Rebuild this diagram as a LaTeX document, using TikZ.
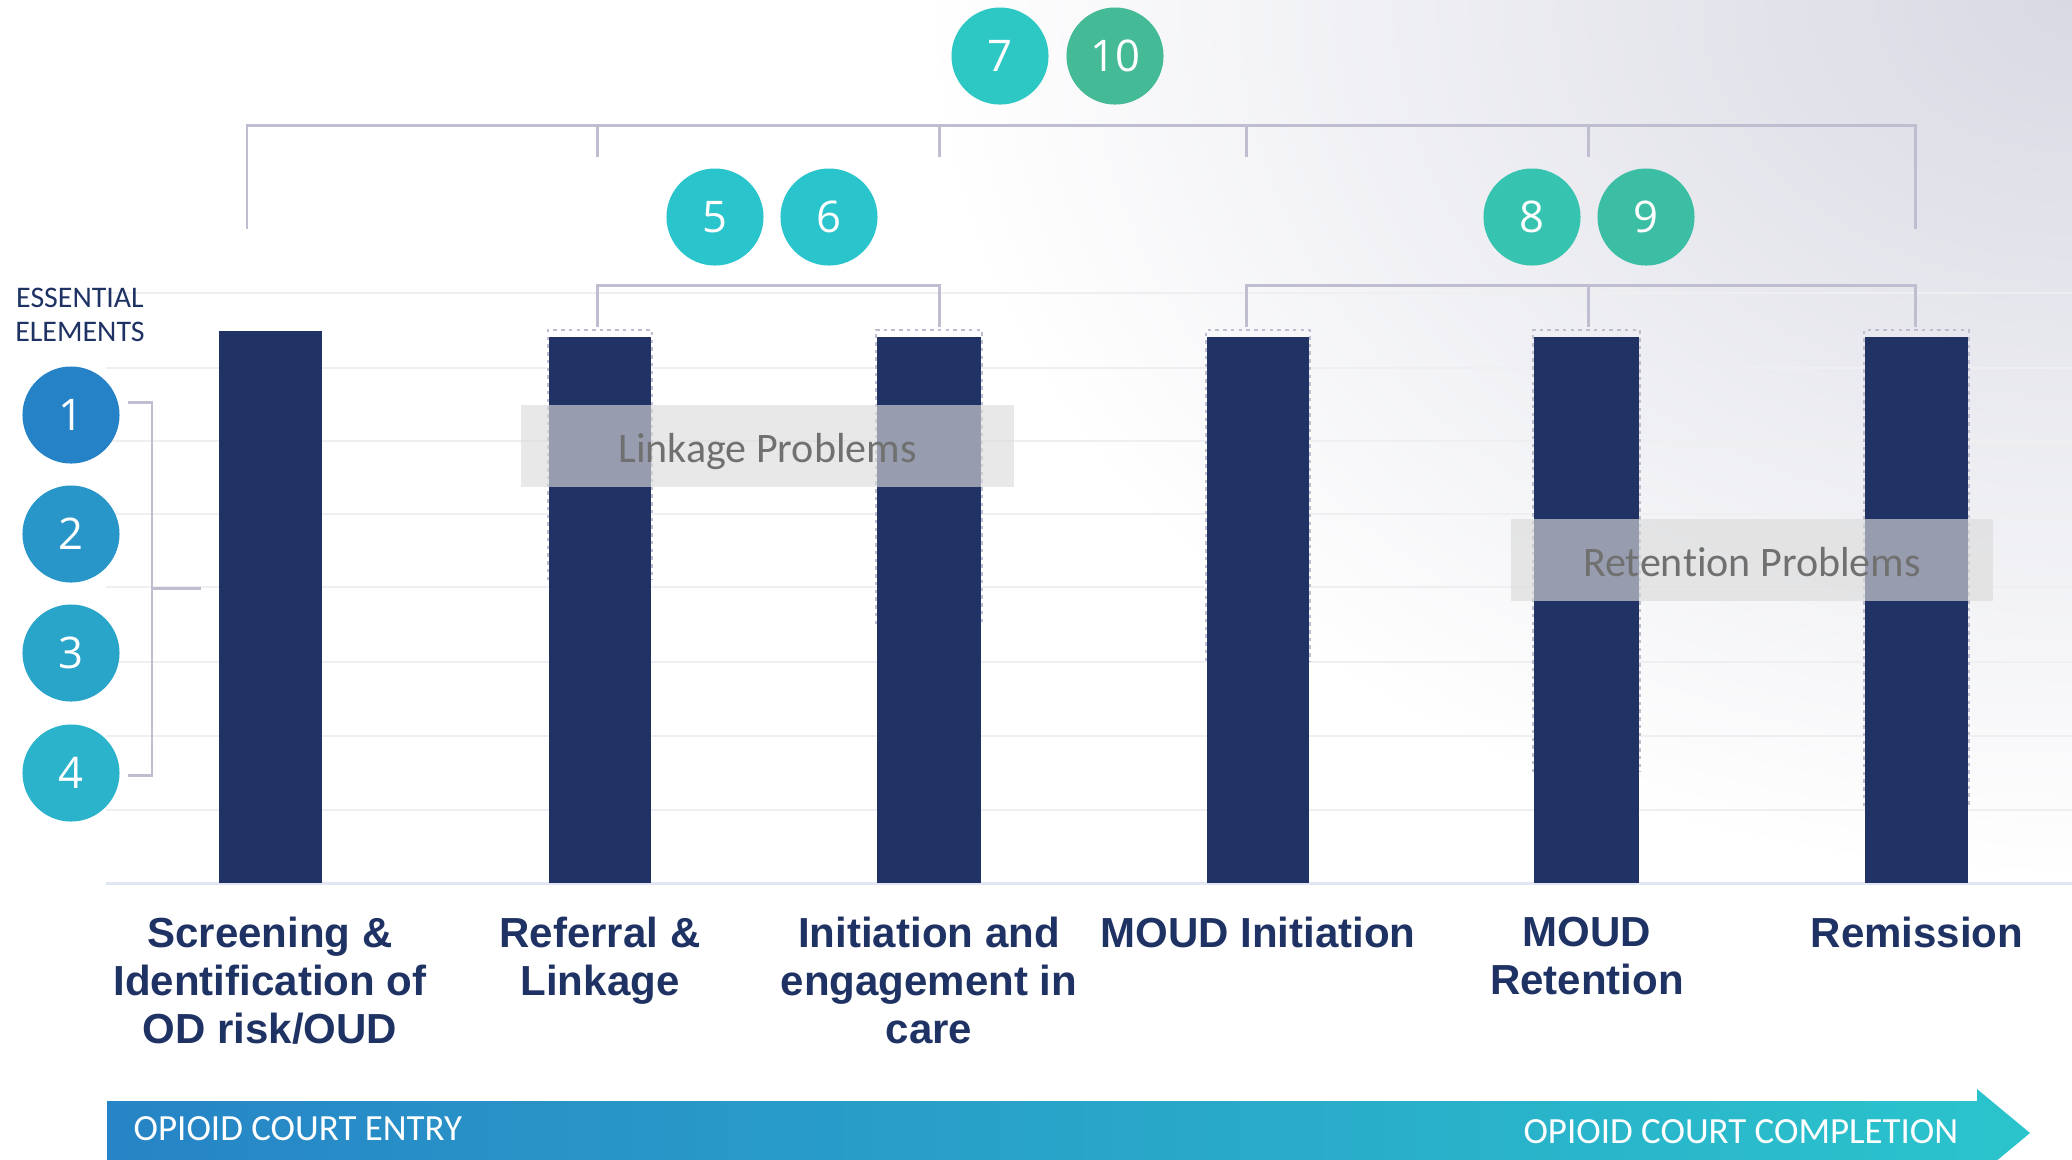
\documentclass[tikz,border=0pt]{standalone}
\usepackage{fontspec}
\setmainfont{Liberation Sans}
\newfontfamily\calfont[Ligatures=NoCommon]{Carlito}
\newfontfamily\numfont{Open Sans}
\definecolor{navy}{RGB}{33,51,101}
\definecolor{labelblue}{RGB}{31,50,100}
\definecolor{bracketgray}{RGB}{190,190,208}
\definecolor{gridgray}{RGB}{239,239,242}
\definecolor{basegray}{RGB}{226,230,242}
\definecolor{cornergray}{RGB}{216,217,227}
\definecolor{boxgray}{RGB}{219,219,219}
\definecolor{problemtext}{RGB}{112,112,112}
\definecolor{arrowleft}{RGB}{39,132,198}
\definecolor{arrowright}{RGB}{42,196,204}
\definecolor{eone}{RGB}{38,130,198}
\definecolor{etwo}{RGB}{40,150,200}
\definecolor{ethree}{RGB}{41,165,202}
\definecolor{efour}{RGB}{42,179,203}
\definecolor{efive}{RGB}{42,196,204}
\definecolor{eseven}{RGB}{46,200,196}
\definecolor{eeight}{RGB}{54,196,176}
\definecolor{enine}{RGB}{60,190,164}
\definecolor{eten}{RGB}{69,186,150}

\begin{document}
\begin{tikzpicture}[x=0.01cm, y=-0.01cm,
	gridline/.style={draw=gridgray, line width=0.6pt},
	bracketline/.style={draw=bracketgray, line width=0.85pt},
	outline/.style={draw=bracketgray, line width=0.6pt, dash pattern=on 1pt off 1.2pt},
	num/.style={circle, minimum size=0.97cm, inner sep=0pt, text=white, font=\numfont\fontsize{12.4}{13}\selectfont},
	stage/.style={anchor=north, inner sep=0pt, align=center, text=labelblue, font=\bfseries\fontsize{11.95}{13.66}\selectfont},
	problem/.style={fill=boxgray, fill opacity=0.635, text opacity=1, text=problemtext, inner sep=0pt, text height=9.1pt, text depth=0pt, minimum height=0.82cm, font=\calfont\fontsize{11.95}{13}\selectfont},
	arrowtext/.style={inner sep=0pt, text=white, font=\calfont\fontsize{10.5}{12}\selectfont}]
		\useasboundingbox (0,0) rectangle (2072,1159);
		\begin{scope}
			\clip (0,0) rectangle (2072,1159);
			\shade[inner color=cornergray, outer color=white] (2072,0) ellipse (1150 and 880);
		\end{scope}
		\draw[gridline] (106,293) -- (2072,293);
		\draw[gridline] (106,368) -- (2072,368);
		\draw[gridline] (106,441) -- (2072,441);
		\draw[gridline] (106,514) -- (2072,514);
		\draw[gridline] (106,587) -- (2072,587);
		\draw[gridline] (106,662) -- (2072,662);
		\draw[gridline] (106,736) -- (2072,736);
		\draw[gridline] (106,810) -- (2072,810);
		\draw[draw=basegray, line width=0.85pt] (106,883) -- (2072,883);
		\fill[navy] (219,331) rectangle (322,883);
		\fill[navy] (549,337) rectangle (651,883);
		\fill[navy] (877,337) rectangle (981,883);
		\fill[navy] (1207,337) rectangle (1309,883);
		\fill[navy] (1534,337) rectangle (1639,883);
		\fill[navy] (1865,337) rectangle (1968,883);
		\draw[outline] (548,580) -- (548,330) -- (652,330) -- (652,580);
		\draw[outline] (876,624) -- (876,330) -- (982,330) -- (982,624);
		\draw[outline] (1206,661) -- (1206,330) -- (1310,330) -- (1310,661);
		\draw[outline] (1533,772) -- (1533,330) -- (1640,330) -- (1640,772);
		\draw[outline] (1864,806) -- (1864,330) -- (1969,330) -- (1969,806);
		\draw[bracketline] (247,229) -- (247,125) -- (1915,125) -- (1915,229);
		\draw[bracketline] (597,125) -- (597,157);
		\draw[bracketline] (939,125) -- (939,157);
		\draw[bracketline] (1246,125) -- (1246,157);
		\draw[bracketline] (1588,125) -- (1588,157);
		\draw[bracketline] (597,327) -- (597,285) -- (939,285) -- (939,327);
		\draw[bracketline] (1246,327) -- (1246,285) -- (1915,285) -- (1915,327);
		\draw[bracketline] (1588,285) -- (1588,327);
		\draw[bracketline] (128,402) -- (152,402) -- (152,775) -- (128,775);
		\draw[bracketline] (152,588) -- (201,588);
		\node[problem, minimum width=4.93cm] (linkage) at (767.5,446) {Linkage Problems};
		\node[problem, minimum width=4.82cm] (retention) at (1752,560) {Ret\kern0pt en\kern0pt t\kern0pt ion Problems};
		\node[anchor=north, inner sep=0pt, align=center, text=labelblue, font=\calfont\fontsize{8.5}{9.7}\selectfont] (essential) at (80,287) {ESSENTIAL\\ELEMENTS};
		\node[num, fill=eone] (e1) at (71,415) {1};
		\node[num, fill=etwo] (e2) at (71,534) {2};
		\node[num, fill=ethree] (e3) at (71,653) {3};
		\node[num, fill=efour] (e4) at (71,773) {4};
		\node[num, fill=efive] (e5) at (715,217) {5};
		\node[num, fill=efive] (e6) at (829,217) {6};
		\node[num, fill=eseven] (e7) at (1000,56) {7};
		\node[num, fill=eten] (e10) at (1115,56) {10};
		\node[num, fill=eeight] (e8) at (1532,217) {8};
		\node[num, fill=enine] (e9) at (1646,217) {9};
		\node[stage] (screening) at (270,916) {Screening \&\\Identification of\\OD risk/OUD};
		\node[stage] (referral) at (600,916) {Referral \&\\Linkage};
		\node[stage] (initiation) at (929,916) {Initiation and\\engagement in\\care};
		\node[stage] (moudinit) at (1258,916) {MOUD Initiation};
		\node[stage] (moudret) at (1587,916) {MOUD\\Retention};
		\node[stage] (remission) at (1917,916) {Remission};
		\shade[left color=arrowleft, right color=arrowright] (107,1101) -- (1977,1101) -- (1977,1089) -- (2030,1133) -- (1977,1177) -- (1977,1165) -- (107,1165) -- cycle;
		\node[arrowtext, anchor=base west] (entry) at (133,1140) {OPIOID COURT ENTRY};
		\node[arrowtext, anchor=base east] (completion) at (1959,1143) {OPIOID COURT COMPLETION};
	\end{tikzpicture}
\end{document}
